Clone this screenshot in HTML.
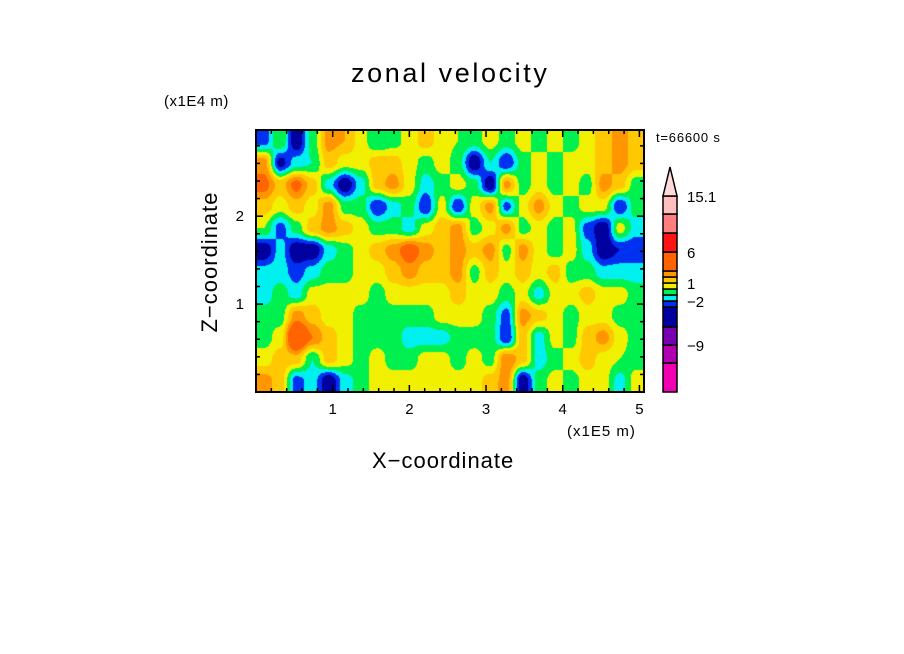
<!DOCTYPE html>
<html><head><meta charset="utf-8"><style>
body{margin:0;background:#fff;width:904px;height:654px;overflow:hidden;font-family:"Liberation Sans",sans-serif}
#root{position:relative;width:904px;height:654px}
.t{position:absolute;white-space:nowrap;color:#000}
</style></head><body>
<div id="root">
<div class="t" style="left:351px;top:58px;font-size:27px;letter-spacing:2.6px">zonal velocity</div>
<div class="t" style="left:164px;top:93px;font-size:15px;letter-spacing:0.5px">(x1E4 m)</div>
<div class="t" style="left:567px;top:423px;font-size:15px;letter-spacing:1px">(x1E5 m)</div>
<div class="t" style="left:656px;top:130px;font-size:13px;letter-spacing:0.8px">t=66600 s</div>
<div class="t" style="left:372px;top:448px;font-size:22px;letter-spacing:1px">X−coordinate</div>
<div class="t" style="left:210px;top:262px;font-size:22px;letter-spacing:1px;transform:translate(-50%,-50%) rotate(-90deg)">Z−coordinate</div>
<canvas id="field" width="388" height="262" style="position:absolute;left:256px;top:130px"></canvas>
<svg id="ov" width="904" height="654" style="position:absolute;left:0;top:0"></svg>
</div>
<script>
const xMaxData = 5.06, yMaxData = 2.98;
const xTickLabels = ["1","2","3","4","5"];
const yTickLabels = ["1","2"];
const levelBounds = [-12,-9,-6,-3,-2,-1,0,1,2,3,6,9,12];
const levelColors = ["#f000b0","#b000b0","#7800b0","#0000a0","#0030f0","#00f0f0","#00f050","#f0f000","#ffc800","#ff9600","#ff6400","#ff1414","#ff7f7f","#ffbfbf"];
const colorbarLabels = ["15.1","6","1","−2","−9"];
const colorbarLabelBounds = [14,11,8,5,2];
const row0 = [-2.5,0,-4,-0.5,2.5,2,0.5,-1,-0.5,0.5,1.5,0.5,0,-0.5,0.5,-0.5,0.5,-0.5,0.5,-0.5,0.5,1.5,2.5,1.5];
const row1 = [2.5,-3.5,-1.5,-1,1.5,0.5,0.5,1.5,1.5,0.5,-0.5,0.5,-0.5,-4,-1,-3,-0.5,0.5,-0.5,0.5,0.5,1.5,2.5,1.5];
const row2 = [3.5,1.5,3.5,1.5,-1.5,-4,-1.5,1.5,2.5,0.5,-1.5,-0.5,0.5,-0.5,-4,2.5,-0.5,0.5,-0.5,0.5,-0.5,2.5,1.5,-0.5];
const row3 = [1.5,0.5,1.5,0.5,2.5,-0.5,-0.5,-3,-1.5,-0.5,-3,0.5,-3,0.5,2.5,-2.5,0.5,2.5,0.5,-0.5,0.5,0.5,-3,-0.5];
const row4 = [0,-2.5,-0.5,1.5,2.5,1.5,0.5,-0.5,-0.5,-1.5,0.5,1.5,2.5,-0.5,0.5,2.5,-0.5,0.5,-0.5,0.5,-2.5,-4,0.5,-1.5];
const row5 = [-4,-1.5,-4,-4,-1.5,-0.5,0.5,1.5,2.5,4,2.5,1.5,2.5,1.5,2.5,-0.5,2.5,0.5,-0.5,0.5,-1.5,-4,-3,-3];
const row6 = [-1.5,-1.5,-2.5,-1.5,-0.5,-0.5,0.5,0.5,1.5,2.5,1.5,1.5,2.5,-0.5,1.5,0.5,1.5,0.5,1.5,-0.5,-0.5,-1.5,-1.5,-1.5];
const row7 = [-1.5,-0.5,-1.5,0.5,0.5,0.5,0.5,-0.5,0.5,0.5,0.5,0.5,1.5,0.5,0.5,-0.5,0.5,-1.5,0.5,0.5,1.5,0.5,0.5,-0.5];
const row8 = [-0.5,-0.5,2.5,1.5,0.5,0.5,-0.5,-0.5,-0.5,-0.5,-0.5,0.5,0.5,0.5,-0.5,-2.5,2.5,1.5,0.5,-0.5,0.5,0.5,-0.5,-0.5];
const row9 = [-0.5,0.5,6,3,1.5,0.5,-0.5,-0.5,-0.5,-1.5,-1.5,-1.5,-0.5,-0.5,-0.5,-3,1.5,-1.5,0.5,-0.5,1.5,2.5,0.5,-0.5];
const row10 = [0.5,1.5,1.5,-1,1.5,0.5,-0.5,0.5,-0.5,-0.5,0.5,0.5,-0.5,0.5,-0.5,3,1.5,-1.5,-0.5,0.5,1.5,0.5,0,-0.5];
const row11 = [2.5,1.5,-2.5,-1.5,-4,-1.5,-0.5,0.5,0.5,0.5,0.5,0.5,0.5,0.5,1.5,2.5,-4,-0.5,0.5,-0.5,0.5,0.5,-1.5,0.5];
const grid = [row0,row1,row2,row3,row4,row5,row6,row7,row8,row9,row10,row11];

const PL=256, PT=130, PW=388, PH=262;
const xs = v => PL + v/xMaxData*PW;
const ys = v => PT + PH - v/yMaxData*PH;
function colorFor(v){let i=0;while(i<levelBounds.length && v>=levelBounds[i]) i++;return levelColors[i];}
function hex(c){return [parseInt(c.substr(1,2),16),parseInt(c.substr(3,2),16),parseInt(c.substr(5,2),16)];}

// field (smoothstep-weighted bilinear)
const cv=document.getElementById('field'), ctx=cv.getContext('2d');
const img=ctx.createImageData(PW,PH);
const R=grid.length, C=grid[0].length;
const sm=t=>t*t*(3-2*t);
for(let py=0;py<PH;py++){
  let gy=(py+0.5)/PH*R-0.5; gy=Math.max(0,Math.min(R-1,gy));
  const y0=Math.floor(gy), y1=Math.min(R-1,y0+1), fy=sm(gy-y0);
  for(let px=0;px<PW;px++){
    let gx=(px+0.5)/PW*C-0.5; gx=Math.max(0,Math.min(C-1,gx));
    const x0=Math.floor(gx), x1=Math.min(C-1,x0+1), fx=sm(gx-x0);
    const v=(grid[y0][x0]*(1-fx)+grid[y0][x1]*fx)*(1-fy)+(grid[y1][x0]*(1-fx)+grid[y1][x1]*fx)*fy;
    const c=hex(colorFor(v)); const k=(py*PW+px)*4;
    img.data[k]=c[0];img.data[k+1]=c[1];img.data[k+2]=c[2];img.data[k+3]=255;
  }
}
ctx.putImageData(img,0,0);

// overlay
const NS="http://www.w3.org/2000/svg", svg=document.getElementById('ov');
function mk(tag,attrs){const e=document.createElementNS(NS,tag);for(const k in attrs)e.setAttribute(k,attrs[k]);svg.appendChild(e);return e;}
const frame=mk('rect',{x:PL,y:PT,width:PW,height:PH,fill:'none',stroke:'#000','stroke-width':2});


for(let v=0.2; v<xMaxData; v+=0.2){
  const major=Math.abs(v-Math.round(v))<1e-6; const L=major?7:4; const x=xs(v);
  const t1=mk('line',{x1:x,x2:x,y1:PT+PH,y2:PT+PH-L,stroke:'#000','stroke-width':1.5});
  
  
  const t2=mk('line',{x1:x,x2:x,y1:PT,y2:PT+L,stroke:'#000','stroke-width':1.5});
  
  
}
for(let v=0.2; v<yMaxData; v+=0.2){
  const major=Math.abs(v-Math.round(v))<1e-6; const L=major?7:4; const y=ys(v);
  const t1=mk('line',{x1:PL,x2:PL+L,y1:y,y2:y,stroke:'#000','stroke-width':1.5});
  
  
  const t2=mk('line',{x1:PL+PW,x2:PL+PW-L,y1:y,y2:y,stroke:'#000','stroke-width':1.5});
  
  
}
xTickLabels.forEach(s=>{
  const t=mk('text',{x:xs(+s),y:414,'text-anchor':'middle','font-size':15,'font-family':'Liberation Sans, sans-serif'});
  t.textContent=s;
  
  
});
yTickLabels.forEach(s=>{
  const t=mk('text',{x:244,y:ys(+s)+5,'text-anchor':'end','font-size':15,'font-family':'Liberation Sans, sans-serif'});
  t.textContent=s;
  
  
});
// colorbar
const CBX=663, CBW=14, CBT=196, CBB=392, TIP=167;
const segEdges=[392,363,345,327,307,301,295,289,283,277,271,252,233,214,196];
for(let i=0;i<levelColors.length;i++){
  const r=mk('rect',{x:CBX,y:segEdges[i+1],width:CBW,height:segEdges[i]-segEdges[i+1],fill:levelColors[i],stroke:'#000','stroke-width':1.5});
  
  
}
const tri=mk('polygon',{points:`${CBX},${CBT} ${CBX+CBW},${CBT} ${CBX+CBW/2},${TIP}`,fill:'#ffdada',stroke:'#000','stroke-width':1.5});


colorbarLabels.forEach((s,i)=>{
  const t=mk('text',{x:687,y:segEdges[colorbarLabelBounds[i]]+6,'font-size':15,'font-family':'Liberation Sans, sans-serif'});
  t.textContent=s;
  
  
});
</script>
</body></html>
